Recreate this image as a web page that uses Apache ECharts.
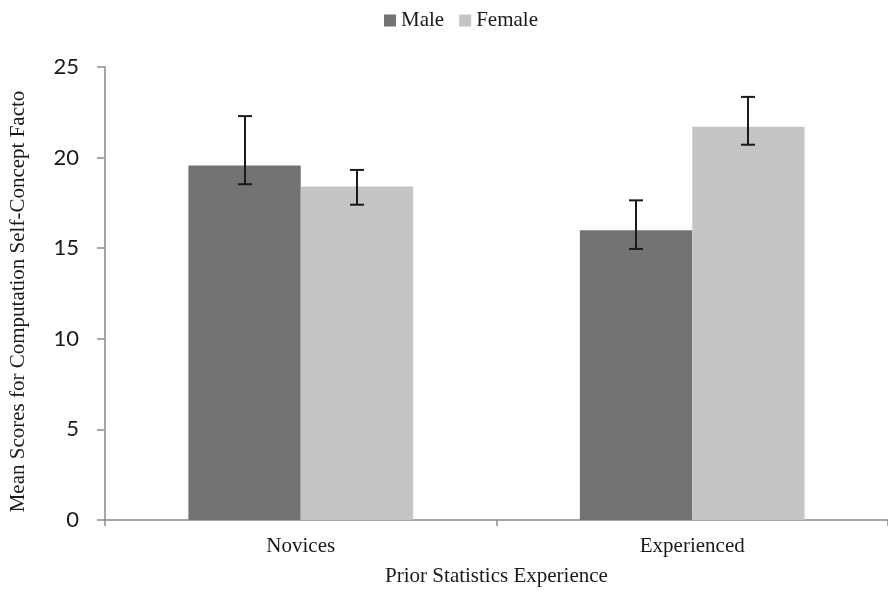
<!DOCTYPE html>
<html>
<head>
<meta charset="utf-8">
<script src="https://cdn.jsdelivr.net/npm/echarts@6/dist/echarts.min.js"></script>
<style>
  html, body { margin: 0; padding: 0; background: #fff; }
  #chart { width: 888px; height: 592px; }
</style>
</head>
<body>
<div id="chart"></div>
<script>
// Groups and series
const categories = ['Novices', 'Experienced'];
const seriesNames = ['Male', 'Female'];
const maleMeans = [19.56, 15.99];
const femaleMeans = [18.41, 21.70];
// Error bar bounds (upper / lower) for each group
const maleUpper = [22.29, 17.64];
const maleLower = [18.53, 14.96];
const femaleUpper = [19.32, 23.35];
const femaleLower = [17.40, 20.71];
const yTicks = [0, 5, 10, 15, 20, 25];

const colors = ['#737373', '#c4c5c4'];
const gapRatio = 0.426;
const serif = "'Liberation Serif', 'Times New Roman', serif";

function errorData(upper, lower) {
  return categories.map((c, i) => [i, lower[i], upper[i]]);
}

function errorSeries(name, upper, lower, side) {
  return {
    type: 'custom',
    name: name + ' error',
    data: errorData(upper, lower),
    z: 10,
    silent: true,
    renderItem: function (params, api) {
      const idx = api.value(0);
      const lo = api.coord([idx, api.value(1)]);
      const hi = api.coord([idx, api.value(2)]);
      const band = api.size([1, 0])[0];
      const barW = band * (1 - gapRatio) / 2;
      const x = Math.round(lo[0] + side * barW / 2);
      const cap = 7;
      const style = { stroke: '#1a1a1a', lineWidth: 2 };
      return {
        type: 'group',
        children: [
          { type: 'line', shape: { x1: x, y1: hi[1], x2: x, y2: lo[1] }, style: style },
          { type: 'line', shape: { x1: x - cap, y1: hi[1], x2: x + cap, y2: hi[1] }, style: style },
          { type: 'line', shape: { x1: x - cap, y1: lo[1], x2: x + cap, y2: lo[1] }, style: style }
        ]
      };
    }
  };
}

const chart = echarts.init(document.getElementById('chart'), null, { renderer: 'canvas' });
chart.setOption({
  animation: false,
  backgroundColor: '#ffffff',
  legend: {
    data: seriesNames,
    top: 5,
    left: 379,
    itemWidth: 12,
    itemHeight: 12,
    itemGap: 15,
    icon: 'rect',
    textStyle: { fontFamily: serif, fontSize: 21, color: '#1a1a1a' }
  },
  grid: { left: 103, top: 67, width: 788, height: 455, containLabel: false },
  xAxis: {
    type: 'category',
    data: categories,
    name: 'Prior Statistics Experience',
    nameLocation: 'middle',
    nameGap: 46,
    nameTextStyle: { fontFamily: serif, fontSize: 21, color: '#1a1a1a' },
    axisLine: { lineStyle: { color: '#8a8a8a', width: 1.5 } },
    axisTick: { show: true, length: 6, lineStyle: { color: '#8a8a8a', width: 1.5 } },
    axisLabel: { margin: 16, fontFamily: serif, fontSize: 21, color: '#1a1a1a' }
  },
  yAxis: {
    type: 'value',
    min: yTicks[0],
    max: yTicks[yTicks.length - 1],
    interval: 5,
    name: 'Mean Scores for Computation Self-Concept Facto',
    nameLocation: 'middle',
    nameGap: 76,
    nameTextStyle: { fontFamily: serif, fontSize: 21, color: '#1a1a1a', padding: [0, 16, 0, 0] },
    axisLine: { show: true, lineStyle: { color: '#8a8a8a', width: 1.5 } },
    axisTick: { show: true, length: 8, lineStyle: { color: '#8a8a8a', width: 1.5 } },
    splitLine: { show: false },
    axisLabel: { margin: 26, fontFamily: 'Lato', fontSize: 22, color: '#1a1a1a' }
  },
  series: [
    {
      type: 'bar',
      name: seriesNames[0],
      data: maleMeans,
      barGap: '0%',
      barCategoryGap: (gapRatio * 100) + '%',
      itemStyle: { color: colors[0] }
    },
    {
      type: 'bar',
      name: seriesNames[1],
      data: femaleMeans,
      barGap: '0%',
      barCategoryGap: (gapRatio * 100) + '%',
      itemStyle: { color: colors[1] }
    },
    errorSeries(seriesNames[0], maleUpper, maleLower, -1),
    errorSeries(seriesNames[1], femaleUpper, femaleLower, 1)
  ]
});
</script>
</body>
</html>
